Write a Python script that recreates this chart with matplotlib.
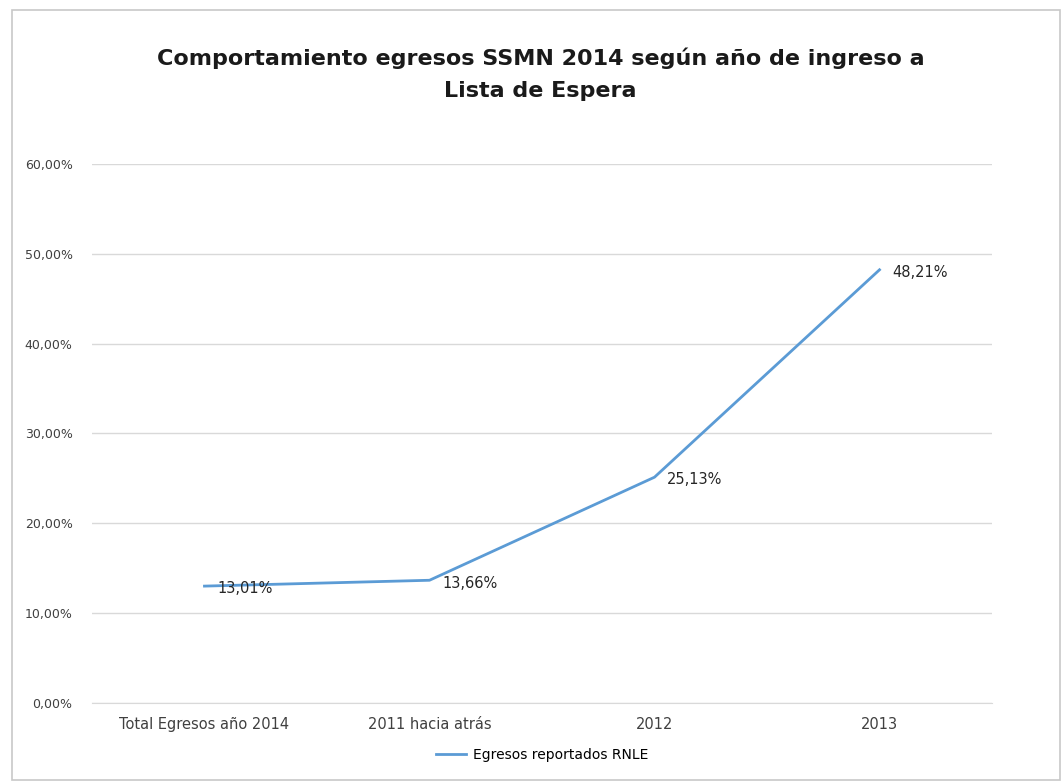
import matplotlib
matplotlib.use("Agg")
import matplotlib.pyplot as plt
from matplotlib.patches import Rectangle
from matplotlib.ticker import FuncFormatter

categorias = ["Total Egresos año 2014", "2011 hacia atrás", "2012", "2013"]
porcentajes = [13.01, 13.66, 25.13, 48.21]
serie = "Egresos reportados RNLE"
titulo = "Comportamiento egresos SSMN 2014 según año de ingreso a\nLista de Espera"

azul = "#5B9BD5"
gris = "#D9D9D9"

fig = plt.figure(figsize=(10.62, 7.84), dpi=100)
ax = fig.add_axes([0.0866, 0.1033, 0.8475, 0.6877])

# marco del gráfico
fig.patches.append(Rectangle((12 / 1062, 4 / 784), 1048 / 1062, 770 / 784,
                             transform=fig.transFigure, fill=False,
                             edgecolor="#C8C8C8", linewidth=1.2))

x = range(len(categorias))
ax.plot(x, porcentajes, color=azul, linewidth=2, label=serie)
for xi, v in zip(x, porcentajes):
    ax.annotate(f"{v:.2f}%".replace(".", ","), (xi, v), xytext=(9, -2),
                textcoords="offset points", va="center", ha="left",
                fontsize=10.5, color="#262626")

ax.set_xlim(-0.5, 3.5)
ax.set_ylim(0, 60)
ax.set_yticks(range(0, 61, 10))
ax.yaxis.set_major_formatter(FuncFormatter(lambda v, p: f"{v:.2f}%".replace(".", ",")))
ax.set_xticks(list(x))
ax.set_xticklabels(categorias)
ax.tick_params(axis="both", length=0, colors="#404040")
ax.tick_params(axis="y", labelsize=9, pad=14)
ax.tick_params(axis="x", labelsize=10.5, pad=10)
ax.grid(axis="y", color=gris, linewidth=1)
ax.set_axisbelow(True)
for s in ["top", "right", "left"]:
    ax.spines[s].set_visible(False)
ax.spines["bottom"].set_color(gris)

fig.text(0.509, 0.905, titulo, ha="center", va="center", fontsize=16,
         fontweight="bold", linespacing=1.75, color="#1a1a1a")

ax.legend(loc="upper center", bbox_to_anchor=(0.5, -0.06), frameon=False,
          fontsize=10, handlelength=2.2, handletextpad=0.5)

fig.savefig("out.png", dpi=100, facecolor="white")
